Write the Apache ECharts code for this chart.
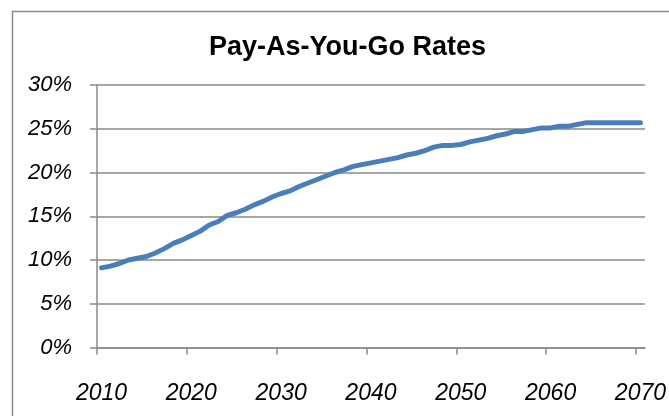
<!DOCTYPE html>
<html>
<head>
<meta charset="utf-8">
<script src="https://cdn.jsdelivr.net/npm/echarts@6/dist/echarts.min.js"></script>
<style>
  html, body { margin: 0; padding: 0; background: #fff; }
  #chart { width: 669px; height: 416px; }
</style>
</head>
<body>
<div id="chart"></div>
<script>
'use strict';
// chart values
var years = [];
for (var y = 2010; y <= 2070; y++) { years.push(y); }
var rates = [
  9.1, 9.3, 9.6, 10.0, 10.2, 10.4, 10.8, 11.3, 11.9, 12.3,
  12.8, 13.3, 14.0, 14.4, 15.1, 15.4, 15.8, 16.3, 16.7, 17.2,
  17.6, 17.9, 18.4, 18.8, 19.2, 19.6, 20.0, 20.3, 20.7, 20.9,
  21.1, 21.3, 21.5, 21.7, 22.0, 22.2, 22.5, 22.9, 23.1, 23.1,
  23.2, 23.5, 23.7, 23.9, 24.2, 24.4, 24.7, 24.7, 24.9, 25.1,
  25.1, 25.3, 25.3, 25.5, 25.7, 25.7, 25.7, 25.7, 25.7, 25.7,
  25.7
];
var yearLabels = [2010, 2020, 2030, 2040, 2050, 2060, 2070];
var yearTicks = [2009.5, 2019.5, 2029.5, 2039.5, 2049.5, 2059.5, 2069.5];
var titleText = 'Pay-As-You-Go Rates';

var points = [];
for (var i = 0; i < years.length; i++) {
  points.push([years[i], rates[i]]);
}

var gray = '#8a8a8a';
var font = '"Liberation Sans", Arial, sans-serif';

var chart = echarts.init(document.getElementById('chart'));
chart.setOption({
  animation: false,
  backgroundColor: '#fff',
  title: {
    text: titleText,
    left: 209,
    top: 34,
    padding: 0,
    textStyle: { fontFamily: font, fontWeight: 'bold', fontSize: 27, color: '#000' }
  },
  graphic: [{
    type: 'rect',
    shape: { x: 12.5, y: 11.5, width: 700, height: 500 },
    style: { fill: 'none', stroke: gray, lineWidth: 1.5 },
    silent: true
  }],
  grid: { left: 97, right: 23, top: 85, bottom: 68.5, containLabel: false },
  xAxis: {
    type: 'value',
    min: 2009.5,
    max: 2070.5,
    axisLine: { show: true, lineStyle: { color: gray, width: 1.5 } },
    axisTick: { show: true, customValues: yearTicks, length: 7, lineStyle: { color: gray, width: 1.5 } },
    axisLabel: {
      customValues: yearLabels,
      margin: 35,
      fontFamily: font,
      fontStyle: 'italic',
      fontSize: 23,
      color: '#000',
      formatter: function (v) { return String(v); }
    },
    splitLine: { show: false }
  },
  yAxis: {
    type: 'value',
    min: 0,
    max: 30,
    interval: 5,
    axisLine: { show: true, lineStyle: { color: gray, width: 1.5 } },
    axisTick: { show: true, length: 7, lineStyle: { color: gray, width: 1.5 } },
    axisLabel: {
      margin: 25,
      fontFamily: font,
      fontStyle: 'italic',
      fontSize: 22,
      color: '#000',
      formatter: '{value}%'
    },
    splitLine: { show: true, lineStyle: { color: gray, width: 1.5 } }
  },
  series: [{
    type: 'line',
    data: points,
    showSymbol: false,
    symbol: 'none',
    lineStyle: { color: '#4a7ebb', width: 5, cap: 'round', join: 'round' }
  }]
});
</script>
</body>
</html>
